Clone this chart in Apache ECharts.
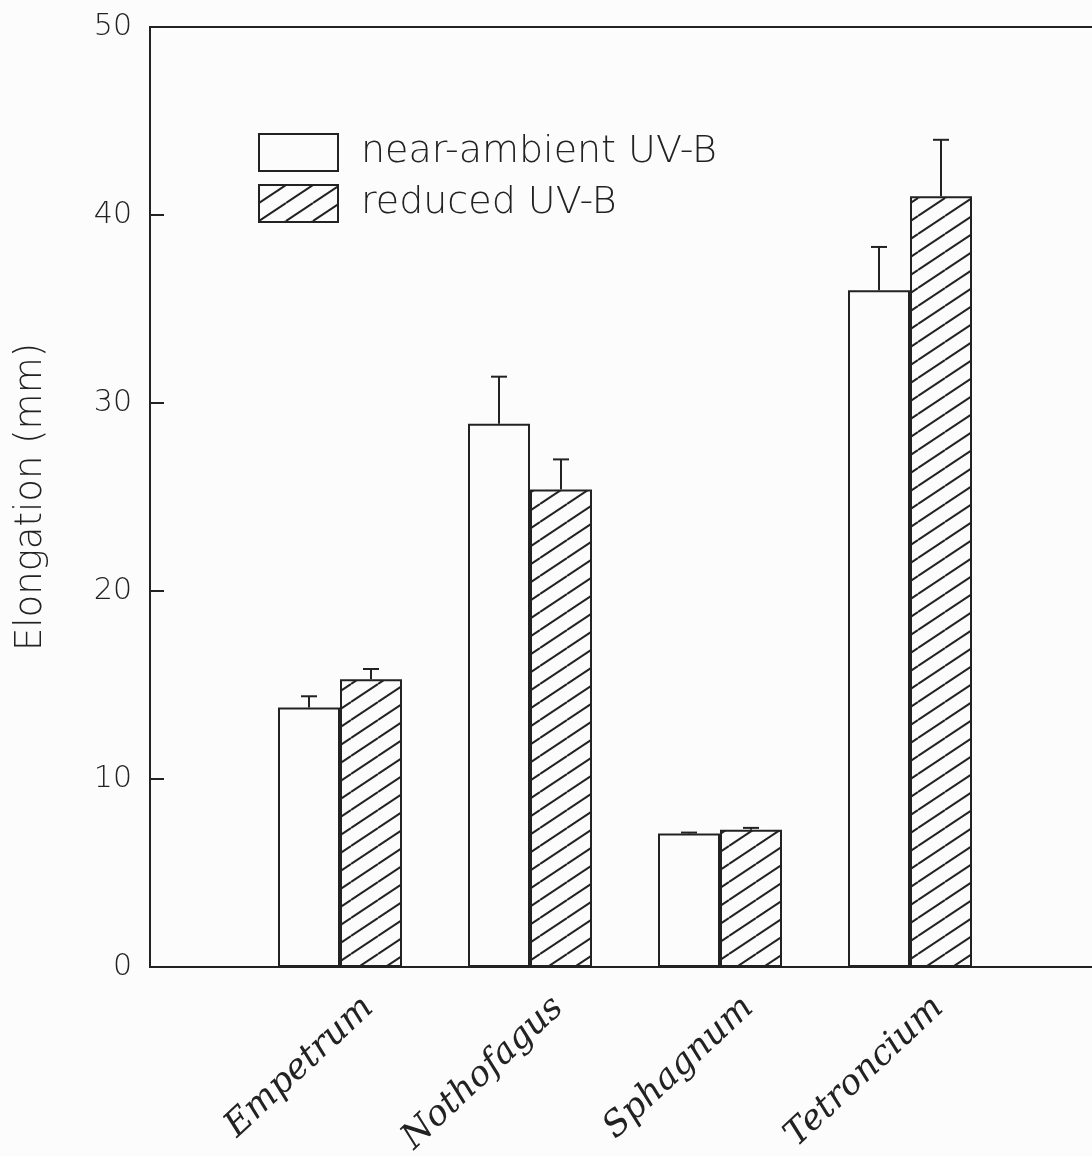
<!DOCTYPE html>
<html>
<head>
<meta charset="utf-8">
<script src="https://cdn.jsdelivr.net/npm/echarts@6/dist/echarts.min.js"></script>
<style>
html,body{margin:0;padding:0;background:#fcfcfc;}
#chart{width:1092px;height:1156px;}
</style>
</head>
<body>
<div id="chart"></div>
<script>
// ---- data ----
var categories = ['Empetrum', 'Nothofagus', 'Sphagnum', 'Tetroncium'];
var categoryPos = [1, 2, 3, 4];
var nearAmbient = [13.8, 28.9, 7.1, 36.0];
var nearAmbientSE = [0.6, 2.5, 0.05, 2.3];
var reduced = [15.3, 25.4, 7.3, 41.0];
var reducedSE = [0.55, 1.6, 0.1, 3.0];
var yTicks = [0, 10, 20, 30, 40, 50];
var seriesNames = ['near-ambient UV-B', 'reduced UV-B'];

var ink = '#222222';
var labelShift = 0.15;

// hatch pattern
function makeHatch() {
  var c = document.createElement('canvas');
  c.width = 27; c.height = 18;
  var g = c.getContext('2d');
  g.fillStyle = '#fcfcfc';
  g.fillRect(0, 0, 27, 18);
  g.strokeStyle = ink;
  g.lineWidth = 2;
  [-18, 0, 18].forEach(function (d) {
    g.beginPath();
    g.moveTo(0, 18 + d);
    g.lineTo(27, 0 + d);
    g.stroke();
  });
  return c;
}
var hatch = { image: makeHatch(), repeat: 'repeat' };

function pairs(vals) {
  return vals.map(function (v, i) { return [categoryPos[i], v]; });
}
function errData(vals, se) {
  return vals.map(function (v, i) { return [categoryPos[i], v, v + se[i]]; });
}
function errRender(offset) {
  return function (params, api) {
    var base = api.coord([api.value(0), api.value(1)]);
    var top = api.coord([api.value(0), api.value(2)]);
    var x = base[0] + offset;
    return {
      type: 'group',
      children: [
        { type: 'line', shape: { x1: x, y1: base[1], x2: x, y2: top[1] }, style: { stroke: ink, lineWidth: 2 } },
        { type: 'line', shape: { x1: x - 8, y1: top[1], x2: x + 8, y2: top[1] }, style: { stroke: ink, lineWidth: 2 } }
      ]
    };
  };
}

var chart = echarts.init(document.getElementById('chart'), null, { renderer: 'canvas' });
chart.setOption({
  backgroundColor: '#fcfcfc',
  animation: false,
  grid: { left: 150, top: 27, width: 950, height: 940, outerBoundsMode: 'none', containLabel: false,
          show: true, borderColor: ink, borderWidth: 2, backgroundColor: 'transparent' },
  legend: {
    data: seriesNames,
    orient: 'vertical',
    left: 253, top: 128,
    itemWidth: 79, itemHeight: 37, itemGap: 12,
    icon: 'rect',
    textStyle: { fontFamily: 'DejaVu Sans', fontWeight: 200, fontSize: 38, color: ink, padding: [0, 0, 0, 18] },
    selectedMode: false
  },
  xAxis: {
    type: 'value', min: 0, max: 5, interval: 0.05,
    axisLine: { show: true, lineStyle: { color: ink, width: 2 } },
    axisTick: { show: false },
    splitLine: { show: false },
    axisLabel: {
      rotate: 43, margin: 36,
      fontFamily: 'DejaVu Serif', fontStyle: 'italic', fontSize: 35, color: ink,
      formatter: function (v) {
        for (var i = 0; i < categoryPos.length; i++) {
          if (Math.abs(v - (categoryPos[i] + labelShift)) < 1e-6) return categories[i];
        }
        return '';
      }
    }
  },
  yAxis: {
    type: 'value', min: 0, max: 50, interval: 10,
    name: 'Elongation (mm)', nameLocation: 'middle', nameGap: 100, nameRotate: 90,
    nameTextStyle: { fontFamily: 'DejaVu Sans', fontWeight: 200, fontSize: 37, color: ink },
    axisLine: { show: true, lineStyle: { color: ink, width: 2 } },
    axisTick: { show: true, inside: true, length: 14, lineStyle: { color: ink, width: 2 } },
    splitLine: { show: false },
    axisLabel: {
      margin: 18, fontFamily: 'DejaVu Sans', fontWeight: 200, fontSize: 30, color: ink,
      formatter: function (v) { return yTicks.indexOf(v) >= 0 ? String(v) : ''; }
    }
  },
  series: [
    {
      name: seriesNames[0], type: 'bar', data: pairs(nearAmbient),
      barWidth: 62, barGap: '0%',
      itemStyle: { color: '#fcfcfc', borderColor: ink, borderWidth: 2 }
    },
    {
      name: seriesNames[1], type: 'bar', data: pairs(reduced),
      barWidth: 62, barGap: '0%',
      itemStyle: { color: hatch, borderColor: ink, borderWidth: 2 }
    },
    {
      type: 'custom', data: errData(nearAmbient, nearAmbientSE), renderItem: errRender(-31), z: 5, silent: true
    },
    {
      type: 'custom', data: errData(reduced, reducedSE), renderItem: errRender(31), z: 5, silent: true
    }
  ]
});
</script>
</body>
</html>
